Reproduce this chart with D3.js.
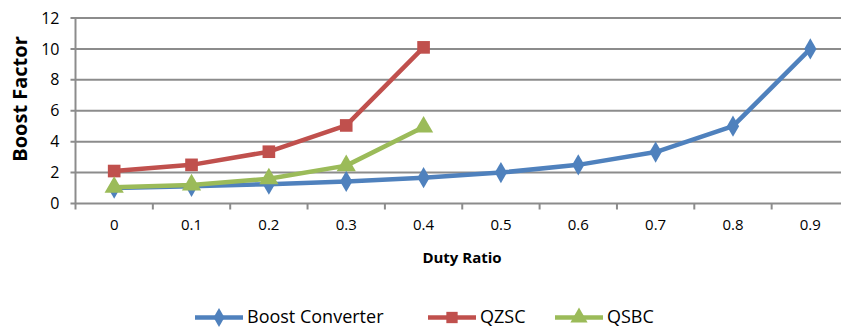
<!DOCTYPE html>
<html lang="en">
<head>
  <meta charset="UTF-8" />
  <title>Boost Factor vs Duty Ratio</title>
  <script src="https://cdn.jsdelivr.net/npm/d3@7"></script>
  <style>
    body { margin: 0; background: #fff; }
    svg text { font-family: "Open Sans", sans-serif; fill: #000; }
  </style>
</head>
<body>
  <div id="chart"></div>
  <script>
  // data
  var duty = ["0", "0.1", "0.2", "0.3", "0.4", "0.5", "0.6", "0.7", "0.8", "0.9"];
  var boost = [1, 1.11, 1.25, 1.43, 1.67, 2, 2.5, 3.33, 5, 10];
  var qzsc = [2.1, 2.5, 3.35, 5.05, 10.1];
  var qsbc = [1.05, 1.2, 1.6, 2.45, 4.95];
  var yTicks = [0, 2, 4, 6, 8, 10, 12];

  var width = 841, height = 329;
  var margin = { top: 18, left: 75.5, bottom: 203.5 };

  var svg = d3.select("#chart").append("svg")
    .attr("width", width)
    .attr("height", height);

  var x = d3.scaleBand()
    .domain(duty)
    .range([margin.left, 849]);

  var y = d3.scaleLinear()
    .domain([0, 12])
    .range([margin.bottom, margin.top]);

  // grid lines
  svg.append("g").selectAll("line")
    .data(yTicks)
    .enter().append("line")
    .attr("x1", margin.left - 5)
    .attr("x2", width)
    .attr("y1", function(d) { return y(d); })
    .attr("y2", function(d) { return y(d); })
    .attr("stroke", "#8c8c8c")
    .attr("stroke-width", 2);

  // y axis line
  svg.append("line")
    .attr("x1", margin.left).attr("x2", margin.left)
    .attr("y1", margin.top).attr("y2", margin.bottom)
    .attr("stroke", "#8c8c8c").attr("stroke-width", 2);

  // x axis
  var xAxis = d3.axisBottom(x).tickSize(0).tickPadding(16);
  var gx = svg.append("g")
    .attr("transform", "translate(0," + margin.bottom + ")")
    .call(xAxis);
  gx.select(".domain").remove();
  gx.selectAll("text").style("font-size", "15px").attr("fill", "#000");
  svg.append("g").selectAll("line")
    .data(duty.concat(["end"]))
    .enter().append("line")
    .attr("x1", function(d, i) { return margin.left + i * x.step(); })
    .attr("x2", function(d, i) { return margin.left + i * x.step(); })
    .attr("y1", margin.bottom)
    .attr("y2", margin.bottom + 6)
    .attr("stroke", "#8c8c8c").attr("stroke-width", 2);

  // y axis labels
  var yAxis = d3.axisLeft(y).tickValues(yTicks).tickSize(0).tickPadding(16);
  var gy = svg.append("g")
    .attr("transform", "translate(" + margin.left + ",0)")
    .call(yAxis);
  gy.select(".domain").remove();
  gy.selectAll("text").style("font-size", "16px").attr("fill", "#000");

  // axis titles
  svg.append("text")
    .attr("x", 462)
    .attr("y", 263)
    .attr("text-anchor", "middle")
    .style("font-size", "15px")
    .style("font-weight", "bold")
    .text("Duty Ratio");

  svg.append("text")
    .attr("transform", "translate(27,99) rotate(-90)")
    .attr("text-anchor", "middle")
    .style("font-size", "20px")
    .style("font-weight", "bold")
    .text("Boost Factor");

  var cx = function(i) { return x(duty[i]) + x.bandwidth() / 2; };
  var line = d3.line()
    .x(function(d, i) { return cx(i); })
    .y(function(d) { return y(d); });

  var series = [
    { name: "Boost Converter", values: boost, color: "#4f81bd", symbol: d3.symbolDiamond, size: 130 },
    { name: "QZSC", values: qzsc, color: "#c0504d", symbol: d3.symbolSquare, size: 160 },
    { name: "QSBC", values: qsbc, color: "#9bbb59", symbol: d3.symbolTriangle, size: 160 }
  ];

  series.forEach(function(s) {
    svg.append("path")
      .datum(s.values)
      .attr("d", line)
      .attr("fill", "none")
      .attr("stroke", s.color)
      .attr("stroke-width", 4.5)
      .attr("stroke-linejoin", "round");
    svg.append("g").selectAll("path")
      .data(s.values)
      .enter().append("path")
      .attr("d", d3.symbol().type(s.symbol).size(s.size))
      .attr("transform", function(d, i) { return "translate(" + cx(i) + "," + y(d) + ")"; })
      .attr("fill", s.color);
  });

  // legend
  var legendX = [195, 428, 555];
  var lg = svg.append("g").selectAll("g")
    .data(series)
    .enter().append("g")
    .attr("transform", function(d, i) { return "translate(" + legendX[i] + ",317.5)"; });
  lg.append("line")
    .attr("x1", 0).attr("x2", 48)
    .attr("stroke", function(d) { return d.color; })
    .attr("stroke-width", 4.5);
  lg.append("path")
    .attr("d", function(d) { return d3.symbol().type(d.symbol).size(d.size * 0.8)(); })
    .attr("transform", "translate(24,0)")
    .attr("fill", function(d) { return d.color; });
  lg.append("text")
    .attr("x", 52)
    .attr("y", 5.5)
    .style("font-size", "18px")
    .text(function(d) { return d.name; });
  </script>
</body>
</html>
